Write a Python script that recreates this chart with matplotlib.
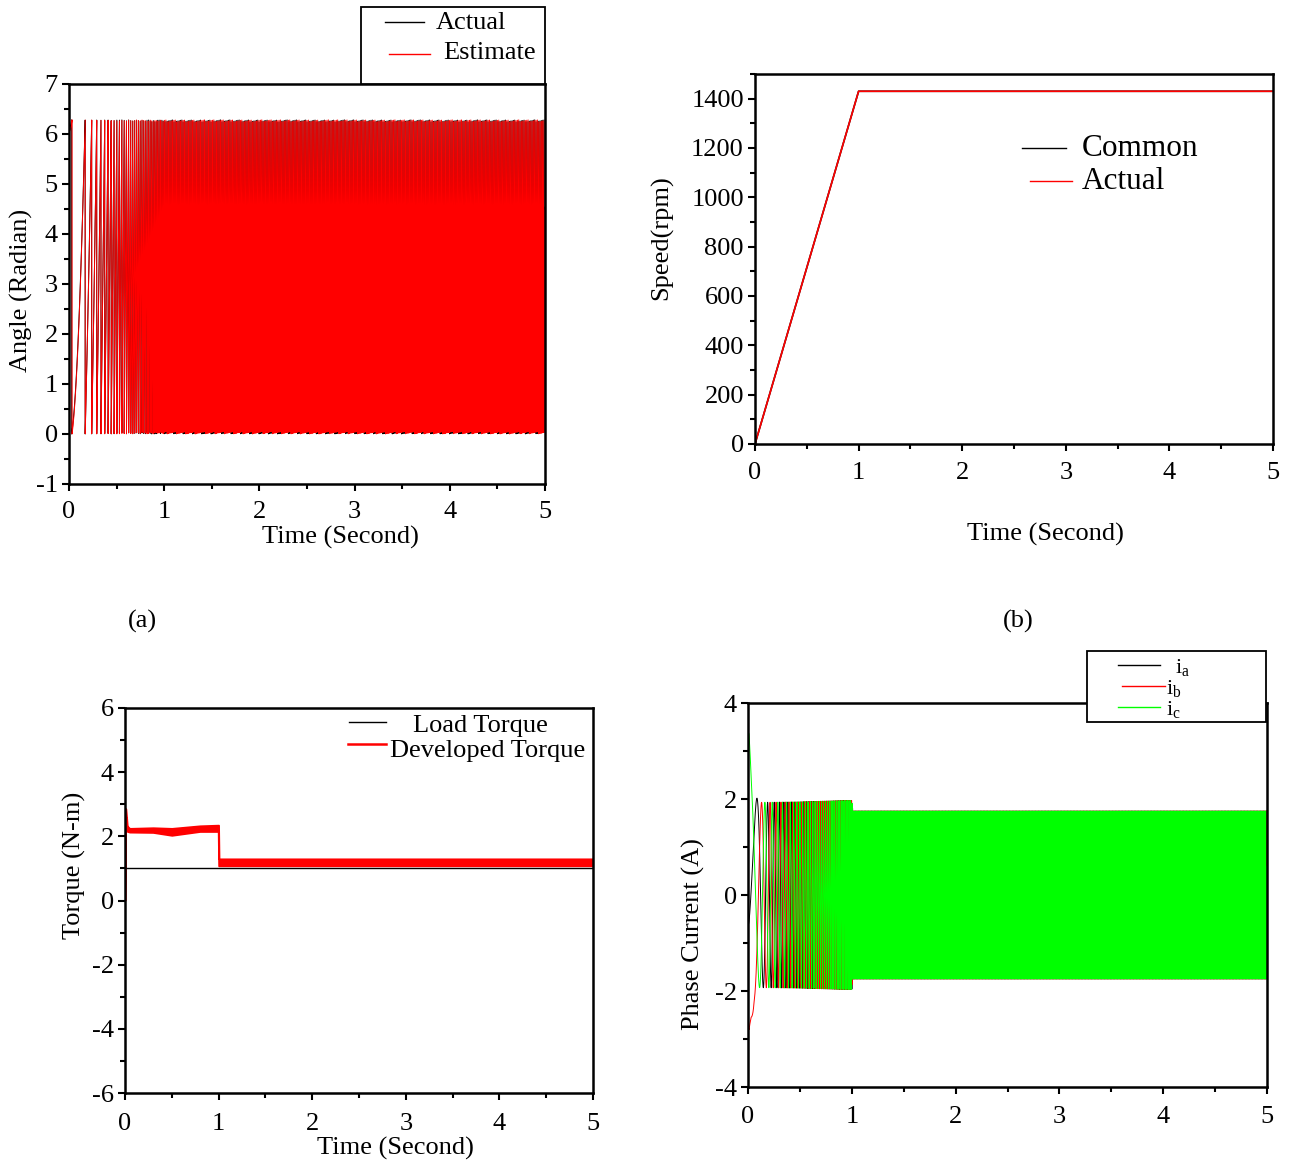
import numpy as np
import matplotlib
matplotlib.use("Agg")
import matplotlib.pyplot as plt
from matplotlib.lines import Line2D
from matplotlib.patches import Rectangle
from matplotlib.ticker import MultipleLocator

plt.rcParams['font.family'] = ['Liberation Serif', 'DejaVu Serif']
plt.rcParams['mathtext.fontset'] = 'custom'
plt.rcParams['mathtext.rm'] = 'Liberation Serif'
plt.rcParams['axes.unicode_minus'] = False

W, H = 1293, 1162

# --- speed profile (rpm) ---
time_speed = [0.0, 1.0, 5.0]
speed_common = [0.0, 1430.0, 1430.0]
speed_actual = [0.0, 1430.0, 1430.0]
pole_pairs = 3
angle_start = 0.972 * 2 * np.pi  # rad, electrical
angle_est_error = 0.06  # rad

# --- torque (N-m) ---
load_time = [0.0, 5.0]
load_torque = [1.0, 1.0]
torque_time = [0.0, 0.006, 0.010, 0.025, 0.05, 0.3, 0.5, 0.8, 0.995, 1.0, 1.005, 5.0]
torque_low = [0.0, 2.5, 2.6, 2.15, 2.13, 2.12, 2.03, 2.15, 2.15, 1.08, 1.08, 1.08]
torque_high = [0.0, 2.87, 2.85, 2.32, 2.25, 2.27, 2.25, 2.33, 2.35, 2.35, 1.3, 1.3]

# --- phase current amplitude (A) ---
current_time = [0.0, 0.01, 0.03, 0.06, 0.1, 0.5, 0.99, 1.0, 1.01, 5.0]
current_amp = [3.6, 3.6, 2.9, 2.2, 1.93, 1.94, 1.97, 1.97, 1.75, 1.75]

# simulation grid
dt = 1e-4
t = np.arange(0.0, 5.0 + dt / 2, dt)
omega = np.interp(t, time_speed, speed_actual) * 2 * np.pi / 60.0
theta_mech = np.concatenate([[0.0], np.cumsum(0.5 * (omega[1:] + omega[:-1]) * dt)])
theta_e = angle_start + pole_pairs * theta_mech
angle_actual = np.mod(theta_e, 2 * np.pi)
angle_est = np.mod(theta_e - angle_est_error, 2 * np.pi)

amp = np.interp(t, current_time, current_amp)
i_a = amp * np.sin(theta_e)
i_b = amp * np.sin(theta_e - 2 * np.pi / 3)
i_c = amp * np.sin(theta_e + 2 * np.pi / 3)


def px_axes(fig, left, top, right, bottom):
    return fig.add_axes([left / W, 1 - bottom / H, (right - left) / W, (bottom - top) / H])


def style_axes(ax, xpad):
    for s in ax.spines.values():
        s.set_linewidth(1.8)
    ax.tick_params(which='both', direction='out', width=1.5, labelsize=19, pad=3)
    ax.tick_params(axis='x', pad=xpad)
    ax.tick_params(which='major', length=5)
    ax.tick_params(which='minor', length=3.5)


def key(fig, x0, x1, yl, xt, yt, label, color, size=19, lw=1.0):
    fig.add_artist(Line2D([x0 / W, x1 / W], [1 - yl / H] * 2, color=color, lw=lw))
    fig.text(xt / W, 1 - yt / H, label, ha='left', va='center', fontsize=size)


def box(fig, x0, y0, x1, y1):
    fig.add_artist(Rectangle((x0 / W, 1 - y1 / H), (x1 - x0) / W, (y1 - y0) / H,
                             transform=fig.transFigure, facecolor='white',
                             edgecolor='black', lw=1.3, zorder=2))


fig = plt.figure(figsize=(W / 100, H / 100), dpi=100)

# (a) rotor angle
ax = px_axes(fig, 69, 84, 545, 484)
ax.plot(t, angle_actual, color='black', lw=0.7)
ax.plot(t, angle_est, color='red', lw=0.7)
ax.set_xlim(0, 5)
ax.set_ylim(-1, 7)
ax.xaxis.set_major_locator(MultipleLocator(1))
ax.xaxis.set_minor_locator(MultipleLocator(0.5))
ax.yaxis.set_major_locator(MultipleLocator(1))
ax.yaxis.set_minor_locator(MultipleLocator(0.5))
style_axes(ax, 7.5)
ax.set_xlabel('Time (Second)', fontsize=19)
ax.xaxis.set_label_coords(0.571, -0.105)
ax.set_ylabel('Angle (Radian)', fontsize=19)
ax.yaxis.set_label_coords(-0.076, 0.485)
box(fig, 361, 7, 545, 84)
key(fig, 385, 424, 22, 436, 23, 'Actual', 'black')
key(fig, 389, 430, 54, 443, 53, 'Estimate', 'red')
fig.text(142 / W, 1 - 621 / H, '(a)', ha='center', va='center', fontsize=19)

# (b) speed
ax = px_axes(fig, 755, 74, 1273, 444)
ax.plot(time_speed, speed_common, color='black', lw=1.2)
ax.plot(time_speed, speed_actual, color='red', lw=1.2)
ax.set_xlim(0, 5)
ax.set_ylim(0, 1500)
ax.set_yticks(np.arange(0, 1401, 200))
ax.xaxis.set_major_locator(MultipleLocator(1))
ax.xaxis.set_minor_locator(MultipleLocator(0.5))
ax.yaxis.set_minor_locator(MultipleLocator(100))
style_axes(ax, 8)
ax.set_xlabel('Time (Second)', fontsize=19)
ax.xaxis.set_label_coords(0.56, -0.212)
ax.set_ylabel('Speed(rpm)', fontsize=19)
ax.yaxis.set_label_coords(-0.158, 0.559)
key(fig, 1022, 1066, 148, 1082, 149, 'Common', 'black', size=22.5)
key(fig, 1030, 1072, 181, 1082, 182, 'Actual', 'red', size=22.5)
fig.text(1018 / W, 1 - 621 / H, '(b)', ha='center', va='center', fontsize=19)

# (c) torque
ax = px_axes(fig, 125, 708, 593, 1093)
ax.plot(load_time, load_torque, color='black', lw=1.0)
ax.fill_between(torque_time, torque_low, torque_high, color='red', lw=1.2)
ax.set_xlim(0, 5)
ax.set_ylim(-6, 6)
ax.xaxis.set_major_locator(MultipleLocator(1))
ax.xaxis.set_minor_locator(MultipleLocator(0.5))
ax.yaxis.set_major_locator(MultipleLocator(2))
ax.yaxis.set_minor_locator(MultipleLocator(1))
style_axes(ax, 9.5)
ax.set_xlabel('Time (Second)', fontsize=19)
ax.xaxis.set_label_coords(0.577, -0.114)
ax.set_ylabel('Torque (N-m)', fontsize=19)
ax.yaxis.set_label_coords(-0.083, 0.59)
key(fig, 349, 386, 722, 413, 726, 'Load Torque', 'black')
key(fig, 348, 386, 744, 390, 751, 'Developed Torque', 'red', lw=1.8)

# (d) phase currents
ax = px_axes(fig, 748, 703, 1267, 1087)
ax.plot(t, i_a, color='black', lw=0.7)
ax.plot(t, i_b, color='red', lw=0.7)
ax.plot(t, i_c, color='#00ff00', lw=0.7)
ax.set_xlim(0, 5)
ax.set_ylim(-4, 4)
ax.xaxis.set_major_locator(MultipleLocator(1))
ax.xaxis.set_minor_locator(MultipleLocator(0.5))
ax.yaxis.set_major_locator(MultipleLocator(2))
ax.yaxis.set_minor_locator(MultipleLocator(1))
style_axes(ax, 8.5)
ax.set_ylabel('Phase Current (A)', fontsize=19)
ax.yaxis.set_label_coords(-0.083, 0.398)
box(fig, 1087, 651, 1266, 722)
key(fig, 1118, 1160, 665, 1175, 668, r'$\mathrm{i}_\mathrm{a}$', 'black', size=16)
key(fig, 1122, 1165, 686, 1166, 689, r'$\mathrm{i}_\mathrm{b}$', 'red', size=16)
key(fig, 1118, 1160, 707, 1166, 710, r'$\mathrm{i}_\mathrm{c}$', '#00ff00', size=16)

fig.savefig('out.png', dpi=100)
